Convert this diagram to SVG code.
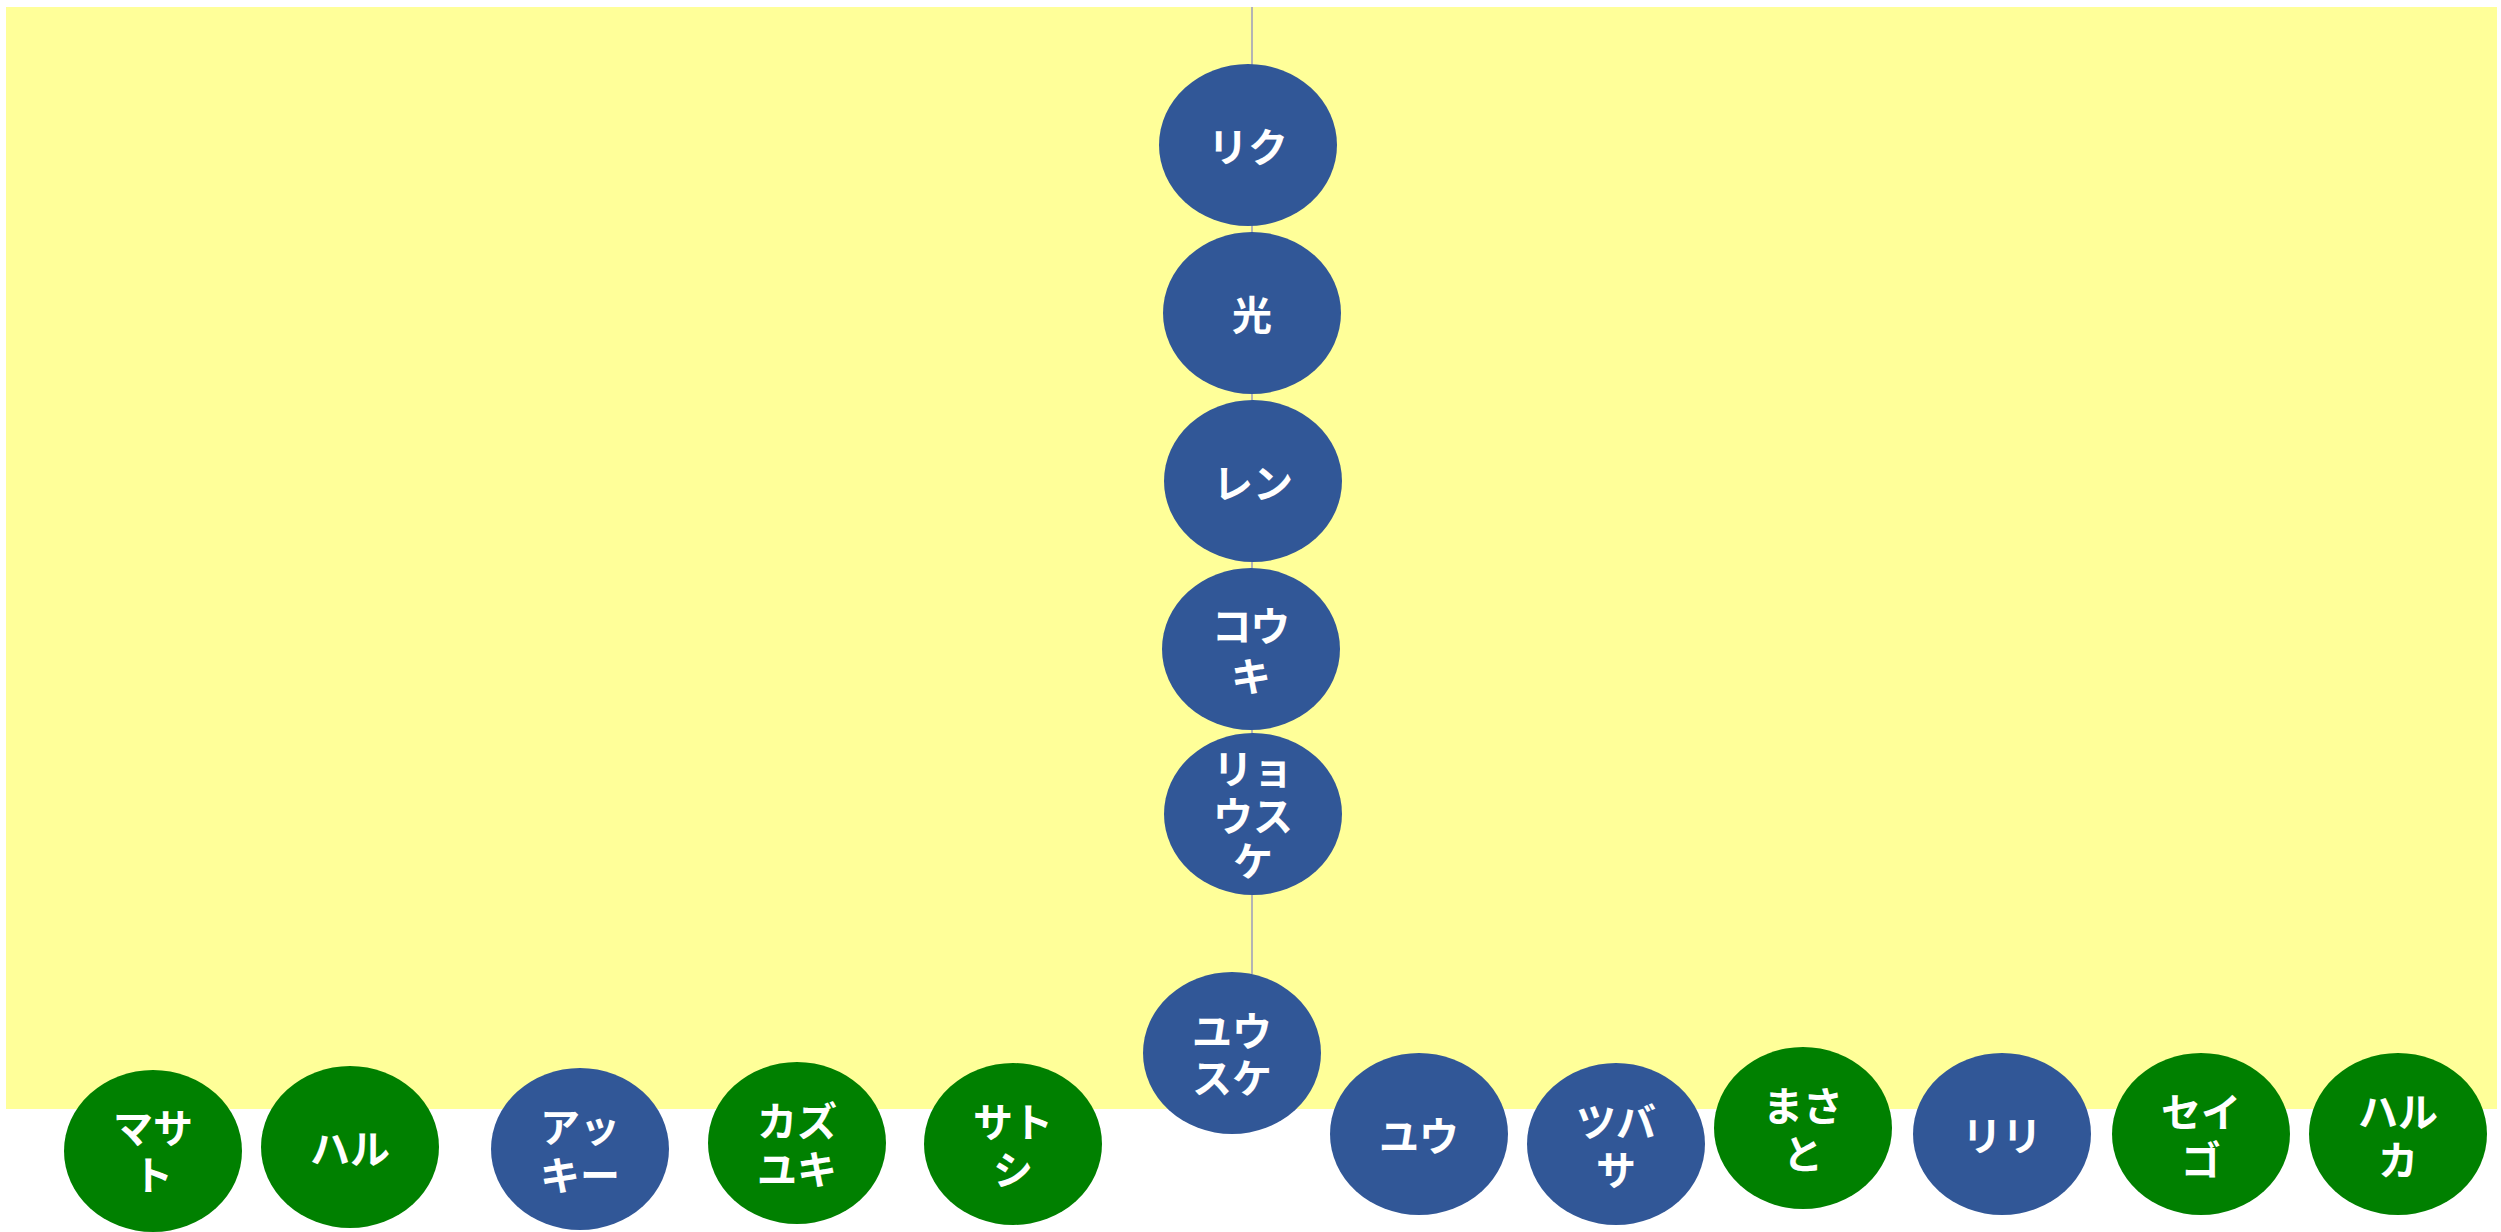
<svg xmlns="http://www.w3.org/2000/svg" width="2501" height="1232" viewBox="0 0 2501 1232">
<style>
.bg{fill:#ffff99}
.edge{stroke:#b4b4b4;stroke-width:2;fill:none}
.blue{fill:#315797}
.green{fill:#008000}
text{font-family:"Noto Sans CJK JP","Noto Sans",sans-serif;font-size:40px;font-weight:700;fill:#ffffff;text-anchor:middle;dominant-baseline:central}
</style>
<rect class="bg" x="6" y="7" width="2491" height="1102"/>
<g id="connectors">
<line class="edge" x1="1252" y1="7" x2="1252" y2="66"/>
<line class="edge" x1="1252" y1="224" x2="1252" y2="234"/>
<line class="edge" x1="1252" y1="392" x2="1252" y2="403"/>
<line class="edge" x1="1252" y1="560" x2="1252" y2="570"/>
<line class="edge" x1="1252" y1="728" x2="1252" y2="735"/>
<line class="edge" x1="1252" y1="893" x2="1252" y2="974"/>
</g>
<g id="n-riku"><ellipse class="blue" cx="1248" cy="145" rx="89" ry="81"/><text x="1248" y="145">リク</text></g>
<g id="n-hikari"><ellipse class="blue" cx="1252" cy="313" rx="89" ry="81"/><text x="1252" y="313">光</text></g>
<g id="n-ren"><ellipse class="blue" cx="1253" cy="481" rx="89" ry="81"/><text x="1253" y="481">レン</text></g>
<g id="n-kouki"><ellipse class="blue" cx="1251" cy="649" rx="89" ry="81"/><text x="1251" y="624">コウ</text><text x="1251" y="674">キ</text></g>
<g id="n-ryousuke"><ellipse class="blue" cx="1253" cy="814" rx="89" ry="81"/><text x="1253" y="767">リョ</text><text x="1253" y="814">ウス</text><text x="1253" y="859">ケ</text></g>
<g id="n-yuusuke"><ellipse class="blue" cx="1232" cy="1053" rx="89" ry="81"/><text x="1232" y="1029">ユウ</text><text x="1232" y="1076">スケ</text></g>
<g id="n-masato"><ellipse class="green" cx="153" cy="1151" rx="89" ry="81"/><text x="153" y="1126">マサ</text><text x="153" y="1173">ト</text></g>
<g id="n-haru"><ellipse class="green" cx="350" cy="1147" rx="89" ry="81"/><text x="350" y="1147">ハル</text></g>
<g id="n-akki"><ellipse class="blue" cx="580" cy="1149" rx="89" ry="81"/><text x="580" y="1125">アッ</text><text x="580" y="1173">キー</text></g>
<g id="n-kazuyuki"><ellipse class="green" cx="797" cy="1143" rx="89" ry="81"/><text x="797" y="1119">カズ</text><text x="797" y="1167">ユキ</text></g>
<g id="n-satoshi"><ellipse class="green" cx="1013" cy="1144" rx="89" ry="81"/><text x="1013" y="1120">サト</text><text x="1013" y="1168">シ</text></g>
<g id="n-yuu"><ellipse class="blue" cx="1419" cy="1134" rx="89" ry="81"/><text x="1419" y="1134">ユウ</text></g>
<g id="n-tsubasa"><ellipse class="blue" cx="1616" cy="1144" rx="89" ry="81"/><text x="1616" y="1120">ツバ</text><text x="1616" y="1168">サ</text></g>
<g id="n-masato2"><ellipse class="green" cx="1803" cy="1128" rx="89" ry="81"/><text x="1803" y="1104">まさ</text><text x="1803" y="1152">と</text></g>
<g id="n-riri"><ellipse class="blue" cx="2002" cy="1134" rx="89" ry="81"/><text x="2002" y="1134">リリ</text></g>
<g id="n-seigo"><ellipse class="green" cx="2201" cy="1134" rx="89" ry="81"/><text x="2201" y="1110">セイ</text><text x="2201" y="1158">ゴ</text></g>
<g id="n-haruka"><ellipse class="green" cx="2398" cy="1134" rx="89" ry="81"/><text x="2398" y="1110">ハル</text><text x="2398" y="1158">カ</text></g>
</svg>
